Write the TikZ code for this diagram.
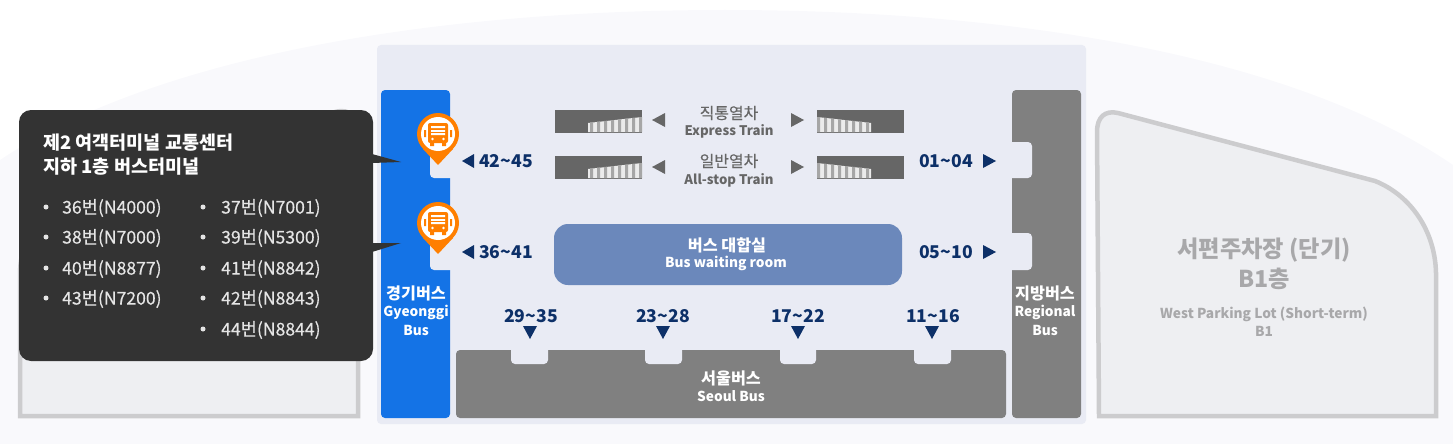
\documentclass[tikz,border=0pt]{standalone}
\usepackage{fontspec}
\setmainfont{Noto Sans CJK KR}
\newfontfamily\medfont[FakeBold=0.35]{Noto Sans CJK KR}
\definecolor{bggray}{HTML}{F9F9FC}
\definecolor{panel}{HTML}{E9EBF4}
\definecolor{lotfill}{HTML}{EEEFF2}
\definecolor{lotline}{HTML}{CCCCCE}
\definecolor{lottext}{HTML}{A8A8AA}
\definecolor{gyeonggi}{HTML}{1473E6}
\definecolor{busgray}{HTML}{808080}
\definecolor{navy}{HTML}{0D3068}
\definecolor{traingray}{HTML}{666666}
\definecolor{room}{HTML}{6B88BB}
\definecolor{dark}{HTML}{333333}
\definecolor{pinorange}{HTML}{FF7F00}
\tikzset{
  num/.style={text=navy,font=\bfseries\fontsize{17.6}{19}\selectfont,inner sep=0pt},
  barko/.style={text=white,font=\bfseries\fontsize{16.2}{18}\selectfont,inner sep=0pt},
  baren/.style={text=white,font=\bfseries\fontsize{13.7}{15}\selectfont,inner sep=0pt},
  trainko/.style={text=traingray,font=\medfont\fontsize{15.9}{18}\selectfont,inner sep=0pt},
  trainen/.style={text=traingray,font=\bfseries\fontsize{13.2}{15}\selectfont,inner sep=0pt},
  title/.style={anchor=west,text=white,font=\bfseries\fontsize{18.5}{20}\selectfont,inner sep=0pt},
  item/.style={anchor=west,text=white!90!black,font=\medfont\fontsize{17.6}{19}\selectfont,inner sep=0pt},
  lotko/.style={text=lottext,font=\bfseries\fontsize{23.2}{25}\selectfont,inner sep=0pt},
  loten/.style={text=lottext,font=\bfseries\fontsize{13.7}{15}\selectfont,inner sep=0pt},
  lot/.style={draw=lotline,fill=lotfill,line width=4.5pt}
}
% triangles: tip x, tip y, base x, half height
\newcommand{\sidetri}[5]{\fill[#1] (#2,#3) -- (#4,#3-#5) -- (#4,#3+#5) -- cycle;}
\newcommand{\downtri}[2]{
  \begin{scope}[shift={(#1,#2)}]
  \fill[navy] (0,13) -- (-7,0) -- (7,0) -- cycle;
  \end{scope}
}
% train box, x runs away from the high end of the stairs
\newcommand{\ramp}[3]{
  \begin{scope}[shift={(#1,#2)},x=#3pt]
  \fill[traingray] (0,0) rectangle (87,23);
  \fill[white!92!black] (0,7) -- (54,13) -- (54,22) -- (0,22) -- cycle;
  \fill[white!65!black] (0,7) rectangle (3,22) (7,7.8) rectangle (10,22) (14,8.5) rectangle (17,22)
    (21,9.3) rectangle (24,22) (28,10) rectangle (31,22) (35,10.8) rectangle (38,22)
    (42,11.6) rectangle (45,22) (49,12.4) rectangle (52,22);
  \end{scope}
}
\newcommand{\buspin}[2]{
  \begin{scope}[shift={(#1,#2)}]
  \fill[pinorange] (-15,15) -- (0,31) -- (15,15) -- cycle;
  \fill[pinorange] (0,0) circle (21);
  \fill[white] (0,0) circle (17);
  \fill[pinorange,rounded corners=2pt] (-10,-11) rectangle (10,9);
  \fill[pinorange] (-8,9) rectangle (-4,12) (4,9) rectangle (8,12);
  \fill[pinorange] (-14,-4) rectangle (-12,3) (12,-4) rectangle (14,3);
  \fill[white] (-7,-8) rectangle (7,-6) (-7,-4) rectangle (7,1);
  \fill[pinorange] (-10,-2) rectangle (10,-1.2);
  \fill[white] (-5.5,5) circle (1.4) (5.5,5) circle (1.4);
  \end{scope}
}
\begin{document}
\begin{tikzpicture}[x=1pt,y=-1pt]
\useasboundingbox (0,0) rectangle (1453,444);

% background
\fill[bggray] (0,444) -- (0,160) .. controls (150,60) and (420,10) .. (725,10)
  .. controls (1030,10) and (1300,60) .. (1453,165) -- (1453,444) -- cycle;
\fill[panel,rounded corners=4pt] (377,45) rectangle (1086,424);

% parking lots
\draw[lot] (20,416) -- (20,273) .. controls (21,230) and (46,195) .. (81,181)
  -- (335,112) .. controls (350,108) and (358,117) .. (358,132) -- (358,416) -- cycle;
\draw[lot] (1099,416) -- (1097,132) .. controls (1097,117) and (1105,110) .. (1118,113)
  -- (1375,181) .. controls (1410,195) and (1435,230) .. (1436,273) -- (1436,416) -- cycle;
\node[lotko] (lotA) at (1264,250) {서편주차장 (단기)};
\node[lotko] (lotB) at (1264,279) {B1층};
\node[loten] (lotC) at (1264,314) {West Parking Lot (Short-term)};
\node[loten] (lotD) at (1264,331) {B1};

% bus bars
\fill[gyeonggi,rounded corners=4pt] (381,90) rectangle (450,418);
\fill[busgray,rounded corners=4pt] (1012,90) rectangle (1081,418);
\fill[busgray,rounded corners=4pt] (456,350) rectangle (1006,418);
\fill[panel,rounded corners=4pt] (430,143) rectangle (456,178);
\fill[panel,rounded corners=4pt] (430,232) rectangle (456,270);
\fill[panel,rounded corners=4pt] (1006,142) rectangle (1032,178);
\fill[panel,rounded corners=4pt] (1006,233) rectangle (1032,270);
\fill[panel,rounded corners=4pt] (511,344) rectangle (548,364);
\fill[panel,rounded corners=4pt] (645,344) rectangle (682,364);
\fill[panel,rounded corners=4pt] (780,344) rectangle (816,364);
\fill[panel,rounded corners=4pt] (914,344) rectangle (951,364);

\node[barko] (gyeongA) at (416,293) {경기버스};
\node[baren] (gyeongB) at (416,312) {Gyeonggi};
\node[baren] (gyeongC) at (416,330) {Bus};
\node[barko] (regionA) at (1045,293) {지방버스};
\node[baren] (regionB) at (1045,312) {Regional};
\node[baren] (regionC) at (1045,330) {Bus};
\node[barko] (seoulA) at (731,378) {서울버스};
\node[baren] (seoulB) at (731,396) {Seoul Bus};

% trains
\ramp{642}{110}{-1}
\ramp{642}{156}{-1}
\ramp{817}{110}{1}
\ramp{817}{156}{1}
\sidetri{traingray}{652}{120}{665}{7}
\sidetri{traingray}{804}{120}{791}{7}
\sidetri{traingray}{652}{167}{665}{7}
\sidetri{traingray}{804}{167}{791}{7}
\node[trainko] (expressA) at (729,113) {직통열차};
\node[trainen] (expressB) at (729,131) {Express Train};
\node[trainko] (localA) at (729,161) {일반열차};
\node[trainen] (localB) at (729,180) {All-stop Train};

% waiting room
\fill[room,rounded corners=14pt] (554,224) rectangle (902,285);
\node[barko] (roomA) at (727,245) {버스 대합실};
\node[baren] (roomB) at (726,263) {Bus waiting room};

% stop numbers
\node[num] (n4245) at (506,161) {42\char`\~45};
\node[num] (n3641) at (506,252) {36\char`\~41};
\node[num] (n0104) at (946,161) {01\char`\~04};
\node[num] (n0510) at (946,252) {05\char`\~10};
\node[num] (n2935) at (531,316) {29\char`\~35};
\node[num] (n2328) at (663,316) {23\char`\~28};
\node[num] (n1722) at (798,316) {17\char`\~22};
\node[num] (n1116) at (933,316) {11\char`\~16};
\sidetri{navy}{462}{161}{474}{7}
\sidetri{navy}{462}{252}{474}{7}
\sidetri{navy}{996}{161}{983}{7}
\sidetri{navy}{996}{252}{983}{7}
\downtri{530}{326}
\downtri{663}{326}
\downtri{798}{326}
\downtri{932}{326}

% callout
\fill[dark,rounded corners=12pt] (19,110) rectangle (373,361);
\fill[dark] (372,154) -- (401,162) -- (372,163) -- cycle;
\fill[dark] (372,243) -- (401,243) -- (372,252) -- cycle;
\buspin{438}{134}
\buspin{438}{223}
\node[title] (titleA) at (43,143) {제2 여객터미널 교통센터};
\node[title] (titleB) at (43,167) {지하 1층 버스터미널};
\fill[white!90!black] (46,207) circle (2.5) (46,237) circle (2.5) (46,268) circle (2.5) (46,298) circle (2.5);
\fill[white!90!black] (203,207) circle (2.5) (203,237) circle (2.5) (203,268) circle (2.5) (203,298) circle (2.5) (203,329) circle (2.5);
\node[item] (itemA) at (62,208) {36번(N4000)};
\node[item] (itemB) at (62,238) {38번(N7000)};
\node[item] (itemC) at (62,269) {40번(N8877)};
\node[item] (itemD) at (62,299) {43번(N7200)};
\node[item] (itemE) at (221,208) {37번(N7001)};
\node[item] (itemF) at (221,238) {39번(N5300)};
\node[item] (itemG) at (221,269) {41번(N8842)};
\node[item] (itemH) at (221,299) {42번(N8843)};
\node[item] (itemI) at (221,330) {44번(N8844)};
\end{tikzpicture}
\end{document}
